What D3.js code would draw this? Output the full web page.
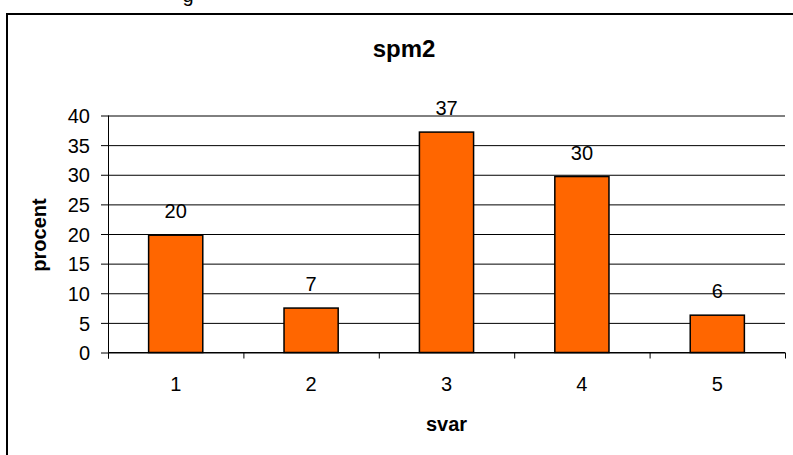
<!DOCTYPE html>
<html>
<head>
<meta charset="utf-8">
<script src="https://cdn.jsdelivr.net/npm/d3@7/dist/d3.min.js"></script>
<style>
  html, body { margin: 0; padding: 0; background: #fff; }
  svg { display: block; font-family: 'Liberation Sans', Arial, sans-serif; }
</style>
</head>
<body>
<svg id="chart" width="793" height="455"></svg>
<script>
// data
const categories = ['1', '2', '3', '4', '5']
const values = [19.8, 7.5, 37.2, 29.7, 6.3]
const valueLabels = ['20', '7', '37', '30', '6']
const yTicks = [0, 5, 10, 15, 20, 25, 30, 35, 40]
const title = 'spm2'
const xTitle = 'svar'
const yTitle = 'procent'

const svg = d3.select('#chart')
const plot = { left: 108, right: 785, top: 115.5, bottom: 352.5 }

// scales
const x = d3.scaleBand()
    .domain(categories)
    .range([plot.left, plot.right])
    .paddingInner(0.6)
    .paddingOuter(0.3)
const y = d3.scaleLinear().domain([0, 40]).range([plot.bottom, plot.top])
// category borders (ticks sit between bars)
const xEdge = d3.scaleLinear().domain([0, categories.length]).range([plot.left, plot.right])

// outer frame, runs off the right and bottom of the page
svg.append('rect')
    .attr('x', 7).attr('y', 14)
    .attr('width', 820).attr('height', 480)
    .attr('fill', 'none')
    .attr('stroke', '#000')
    .attr('stroke-width', 2)

// bit of text cut off above the frame (as in the original page)
svg.append('text')
    .attr('x', 188).attr('y', 2)
    .attr('text-anchor', 'middle')
    .attr('font-size', 20)
    .attr('fill', '#000')
    .text('g')

// y axis + grid
const yAxis = svg.append('g')
    .attr('transform', `translate(${plot.left}, 0)`)
    .call(d3.axisLeft(y).tickValues(yTicks).tickSize(-(plot.right - plot.left)).tickPadding(18))
yAxis.select('.domain').remove()
yAxis.selectAll('.tick line')
    .attr('x1', -7)
    .attr('stroke', '#000')
yAxis.selectAll('.tick text')
    .attr('font-size', 20)
    .attr('font-family', "'Liberation Sans', Arial, sans-serif")
    .attr('fill', '#000')
    .attr('dy', '0.36em')

// vertical axis line
svg.append('line')
    .attr('x1', plot.left + 0.5).attr('x2', plot.left + 0.5)
    .attr('y1', plot.top).attr('y2', plot.bottom + 6)
    .attr('stroke', '#000')

// x axis: borders between categories
const xAxis = svg.append('g')
    .attr('transform', `translate(0, ${plot.bottom})`)
    .call(d3.axisBottom(xEdge).tickValues(d3.range(categories.length + 1)).tickSize(6).tickFormat(''))
xAxis.select('.domain').attr('stroke', '#000').attr('d', `M${plot.left},0H${plot.right}`)
xAxis.selectAll('.tick line').attr('stroke', '#000')

// category labels
const xLabels = svg.append('g')
    .attr('transform', `translate(0, ${plot.bottom})`)
    .call(d3.axisBottom(x).tickSize(0).tickPadding(24))
xLabels.select('.domain').remove()
xLabels.selectAll('.tick text')
    .attr('font-size', 20)
    .attr('font-family', "'Liberation Sans', Arial, sans-serif")
    .attr('fill', '#000')

// bars
svg.append('g').selectAll('rect')
    .data(values)
    .join('rect')
    .attr('x', (d, i) => x(categories[i]))
    .attr('y', (d) => y(d))
    .attr('width', x.bandwidth())
    .attr('height', (d) => y(0) - y(d))
    .attr('fill', '#FF6600')
    .attr('stroke', '#000')
    .attr('stroke-width', 1.5)

// value labels above bars
svg.append('g').selectAll('text')
    .data(values)
    .join('text')
    .attr('x', (d, i) => x(categories[i]) + x.bandwidth() / 2)
    .attr('y', (d) => y(d) - 17)
    .attr('text-anchor', 'middle')
    .attr('font-size', 20)
    .attr('fill', '#000')
    .text((d, i) => valueLabels[i])

// titles
svg.append('text')
    .attr('x', 404).attr('y', 57)
    .attr('text-anchor', 'middle')
    .attr('font-size', 24)
    .attr('font-weight', 'bold')
    .text(title)

svg.append('text')
    .attr('x', (plot.left + plot.right) / 2).attr('y', 431)
    .attr('text-anchor', 'middle')
    .attr('font-size', 20)
    .attr('font-weight', 'bold')
    .text(xTitle)

svg.append('text')
    .attr('transform', `translate(46, 235) rotate(-90)`)
    .attr('text-anchor', 'middle')
    .attr('font-size', 20)
    .attr('font-weight', 'bold')
    .text(yTitle)
</script>
</body>
</html>
